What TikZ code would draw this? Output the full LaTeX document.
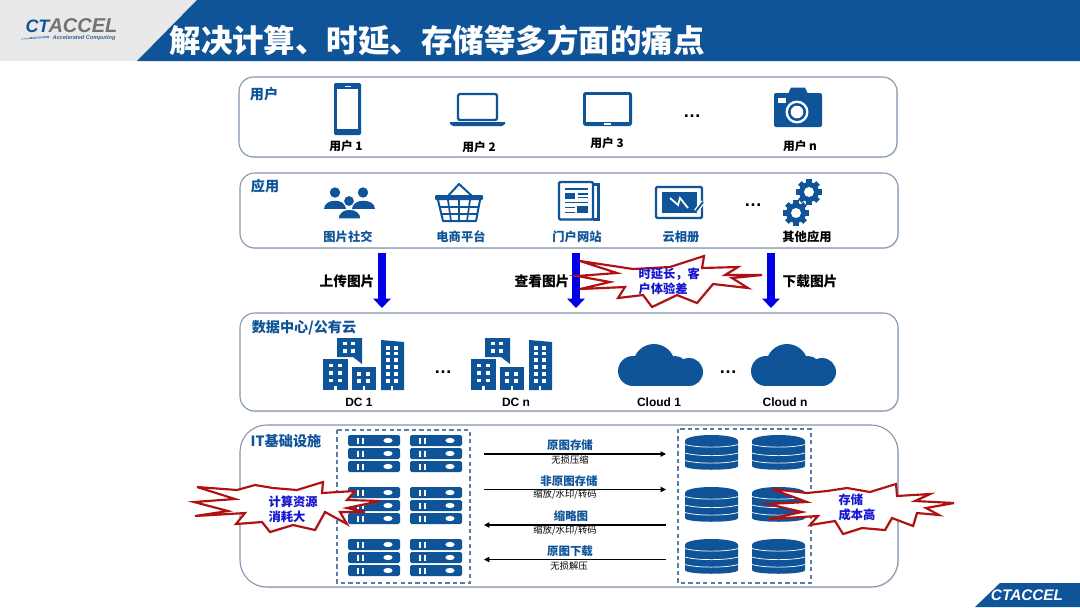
\documentclass[tikz,border=0pt]{standalone}
\usepackage{fontspec}
\setmainfont{Noto Sans CJK SC}
\newfontfamily\latfont{Liberation Sans}
\usetikzlibrary{arrows.meta,shadows}

\definecolor{ctblue}{RGB}{15,84,153}
\definecolor{ctgray}{RGB}{233,233,233}
\definecolor{panelline}{RGB}{128,148,174}
\definecolor{burstred}{RGB}{176,16,18}
\definecolor{bursttext}{RGB}{20,20,210}
\definecolor{bigblue}{RGB}{0,0,230}
\definecolor{boxline}{RGB}{90,125,165}

\tikzset{every picture/.style={line width=0.75pt}}
\tikzset{
  every pic/.style={yscale=-1},
  panel/.style={draw=panelline,fill=white,line width=0.8pt,drop shadow={opacity=0.18,shadow xshift=0.8pt,shadow yshift=-0.8pt}},
  burst/.style={draw=burstred,fill=white,line width=1.6pt,line join=miter,miter limit=8,drop shadow={opacity=0.22,shadow xshift=1pt,shadow yshift=-1pt}},
  dashbox/.style={draw=boxline,line width=0.9pt,dash pattern={on 3.2pt off 2.4pt}},
  bigarrow/.style={draw=bigblue,line width=6.6pt,-{Triangle[length=7pt,width=12.8pt]}},
  flowarrow/.style={draw=black,line width=0.85pt,-{Triangle[length=4pt,width=4pt]}},
  paneltitle/.style={inner sep=0pt,text=ctblue,font=\fontsize{10.6}{12}\selectfont\bfseries},
  usertext/.style={inner sep=0pt,text=black,font=\fontsize{8.8}{11}\selectfont\bfseries},
  apptext/.style={inner sep=0pt,text=ctblue,font=\fontsize{9.2}{11}\selectfont\bfseries},
  uptext/.style={inner sep=0pt,text=black,font=\fontsize{10.3}{12}\selectfont\bfseries},
  dctext/.style={inner sep=0pt,text=black,font=\fontsize{9}{11}\selectfont\latfont\bfseries},
  dottext/.style={inner sep=0pt,text=black,font=\fontsize{13.5}{14}\selectfont\latfont\bfseries},
  flowtext/.style={inner sep=0pt,text=ctblue,font=\fontsize{8.6}{10}\selectfont\bfseries},
  subtext/.style={inner sep=0pt,text=black,font=\fontsize{7}{9}\selectfont},
  bursttxt/.style={inner sep=0pt,text=bursttext,align=left,font=\fontsize{9.2}{11}\selectfont\bfseries},
  servericon/.pic={
    \foreach \y in {0,13,26}{
      \fill[ctblue,rounded corners=1.2pt] (0,\y) rectangle +(52,11);
      \fill[white] (9,\y+3) rectangle +(2.2,5.5);
      \fill[white] (13.5,\y+3) rectangle +(2.2,5.5);
      \fill[white] (40,\y+5.5) ellipse [x radius=4.6,y radius=2.6];
    }
  },
  diskicon/.pic={
    \fill[ctblue] (0,6) .. controls (0,-2) and (53,-2) .. (53,6) -- (53,31) .. controls (53,36) and (0,36) .. (0,31) -- cycle;
    \foreach \y in {9.5,18,25.5}{
      \draw[white,line width=0.55pt] (0,\y) .. controls (12,\y+3.5) and (41,\y+3.5) .. (53,\y);
    }
  },
  buildingicon/.pic={
    \fill[ctblue] (0,21) rectangle (25,52);
    \fill[ctblue] (14,0) -- (39,0) -- (39,26) -- (30,19) -- (14,19) -- cycle;
    \fill[ctblue] (29,29) rectangle (53,52);
    \fill[ctblue] (58,2) -- (81,4) -- (81,52) -- (58,52) -- cycle;
    \foreach \x in {8,17}{\foreach \y in {27.5,35,42.5}{\fill[white] (\x-1.7,\y-1.7) rectangle +(3.4,3.4);}}
    \foreach \x in {22,30}{\foreach \y in {5.7,13}{\fill[white] (\x-1.7,\y-1.7) rectangle +(3.4,3.4);}}
    \foreach \x in {36,45}{\foreach \y in {36,43}{\fill[white] (\x-1.7,\y-1.7) rectangle +(3.4,3.4);}}
    \foreach \x in {65,73}{\foreach \y in {10,15.5,22,29,36,43}{\fill[white] (\x-1.7,\y-1.7) rectangle +(3.4,3.4);}}
    \fill[white] (11.2,48) rectangle +(2.6,4);
    \fill[white] (39.8,48) rectangle +(2.6,4);
    \fill[white] (67.7,48) rectangle +(2.6,4);
  },
  cloudicon/.pic={
    \fill[ctblue] (15,27) circle [radius=15];
    \fill[ctblue] (36,21) circle [radius=21];
    \fill[ctblue] (57,25) circle [radius=13];
    \fill[ctblue] (71,28) circle [radius=14];
    \fill[ctblue] (15,28) rectangle (71,42);
  },
  gearicon/.pic={
    \foreach \a in {0,45,...,315}{
      \fill[ctblue,rotate=\a] (-2.6,-12.8) rectangle (2.6,0);
    }
    \fill[ctblue] (0,0) circle [radius=10];
    \fill[white] (0,0) circle [radius=5];
  }
}

\begin{document}
\begin{tikzpicture}[x=0.75pt,y=0.75pt,yscale=-1,xscale=1]
\useasboundingbox (0,0) rectangle (1080,607);

%Header band
\fill[ctgray] (0,0) rectangle (1080,61);
\fill[ctblue] (137,61) -- (197,0) -- (1080,0) -- (1080,61) -- cycle;
\fill[ctblue] (975,607) -- (1000,583) -- (1080,583) -- (1080,607) -- cycle;
% Text Node
\draw (437,40) node (titletext) [inner sep=0pt,text=white,font=\fontsize{23.6}{26}\selectfont\bfseries] {解决计算、时延、存储等多方面的痛点};
% Text Node
\draw (25,26) node (logoct) [anchor=west,inner sep=0pt,text=ctblue,font=\fontsize{13.5}{15}\selectfont\latfont\bfseries\itshape] {CT};
% Text Node
\draw (48,26) node (logoaccel) [anchor=west,inner sep=0pt,text=black!55,font=\fontsize{15}{17}\selectfont\latfont\bfseries\itshape] {ACCEL};
% Text Node
\draw (84,38) node (logosub) [inner sep=0pt,text=ctblue!70!black!80,font=\fontsize{4.2}{5}\selectfont\latfont\bfseries\itshape] {Accelerated Computing};
\draw[ctblue!70,line width=0.5pt] (21,39) -- (49,37.5);
\draw[ctblue!70,line width=0.5pt] (30,37.5) -- (49,36.5);
% Text Node
\draw (1027,595) node (logofoot) [inner sep=0pt,text=white,font=\fontsize{11.5}{13}\selectfont\latfont\bfseries\itshape] {CTACCEL};

%Shape: Rounded Rect panels
\path[panel,rounded corners=11pt] (239,77) rectangle (897,157);
\path[panel,rounded corners=11pt] (240,173) rectangle (898,248);
\path[panel,rounded corners=11pt] (240,313) rectangle (898,411);
\path[panel,rounded corners=20pt] (240,425) rectangle (898,587);

% Text Node
\draw (264,94) node (titleuser) [paneltitle] {用户};
% Text Node
\draw (265,186) node (titleapp) [paneltitle] {应用};
% Text Node
\draw (304,328) node (titledc) [paneltitle] {数据中心/公有云};
% Text Node
\draw (286,441) node (titleit) [paneltitle] {IT基础设施};

%Phone
\fill[ctblue,rounded corners=1pt] (334,83) rectangle (361,135);
\fill[white] (337,89) rectangle (358,129);
\fill[white] (345,85.5) rectangle (351,87);
%Laptop
\draw[ctblue,line width=1.7pt,rounded corners=1.5pt] (458,94) rectangle (497,120);
\fill[ctblue] (450,122) -- (505,122) -- (505,124) -- (502,126) -- (453,126) -- (450,124) -- cycle;
%Tablet
\fill[ctblue,rounded corners=2pt] (583,92) rectangle (632,126);
\fill[white] (586,95) rectangle (629,122);
\fill[white] (604,123) rectangle (611,125);
%Camera
\fill[ctblue,rounded corners=1.5pt] (774,93) rectangle (822,127);
\fill[ctblue] (788,94) -- (791,87.5) -- (805,87.5) -- (808,94) -- cycle;
\fill[white] (778,98) rectangle (786,103);
\fill[white] (797,112) circle [radius=11.5];
\fill[ctblue] (797,112) circle [radius=9];
\fill[white] (797,112) circle [radius=6.3];

% Text Node
\draw (346,146) node (usera) [usertext] {用户 1};
% Text Node
\draw (479,147) node (userb) [usertext] {用户 2};
% Text Node
\draw (607,143) node (userc) [usertext] {用户 3};
% Text Node
\draw (800,146) node (usern) [usertext] {用户 n};
% Text Node
\draw (692,116) node (dotsuser) [dottext] {…};

%People
\fill[ctblue] (335,192.5) circle [radius=5.2];
\fill[ctblue] (363,192.5) circle [radius=5.2];
\fill[ctblue] (324,209) .. controls (324,198) and (346,198) .. (346,209) -- cycle;
\fill[ctblue] (352,209) .. controls (352,198) and (375,198) .. (375,209) -- cycle;
\draw[fill=ctblue,draw=white,line width=0.8pt] (349,201) circle [radius=5.6];
\draw[fill=ctblue,draw=white,line width=0.8pt] (338,219) .. controls (338,206) and (361,206) .. (361,219) -- cycle;
%Basket
\draw[ctblue,line width=1.5pt,line join=round] (448,196) -- (459,184) -- (472,196);
\fill[ctblue,rounded corners=0.8pt] (435,195) rectangle (483,200);
\draw[ctblue,line width=1.5pt,line join=round] (438,200) -- (443,221) -- (476,221) -- (480,200);
\draw[ctblue,line width=1.3pt] (440,207) -- (478,207);
\draw[ctblue,line width=1.3pt] (441.5,214) -- (477,214);
\draw[ctblue,line width=1.3pt] (448,200) -- (451,221);
\draw[ctblue,line width=1.3pt] (459,200) -- (459,221);
\draw[ctblue,line width=1.3pt] (470,200) -- (467,221);
%Newspaper
\draw[ctblue,line width=1.7pt,rounded corners=1pt] (559,182) rectangle (593,219.5);
\draw[ctblue,line width=1.7pt] (593,184.5) -- (598.5,184.5) -- (598.5,219.5) -- (593,219.5);
\fill[ctblue] (565,187.5) rectangle (588,190);
\fill[ctblue] (565,193) rectangle (575,198.5);
\fill[ctblue] (577.5,193) rectangle (588,194.5);
\fill[ctblue] (577.5,196.5) rectangle (588,198);
\fill[ctblue] (565,201.5) rectangle (588,203);
\fill[ctblue] (577,206) rectangle (588,213);
\fill[ctblue] (565,206.5) rectangle (575,208);
\fill[ctblue] (565,211.5) rectangle (575,213);
%Cloud album
\draw[ctblue,line width=1.7pt,rounded corners=1pt] (656,187) rectangle (702,218);
\fill[ctblue] (662,192) rectangle (697,213);
\draw[white,line width=1.3pt] (670,198) -- (678,205) -- (680,198) -- (688,208);
\draw[white,line width=3.4pt] (696,211) -- (703,202);
\draw[ctblue,line width=1.4pt] (696,211) -- (703,202);
%Gears
\pic at (809,192) {gearicon};
\pic at (796,213) {gearicon};

% Text Node
\draw (348,237) node (appa) [apptext] {图片社交};
% Text Node
\draw (461,237) node (appb) [apptext] {电商平台};
% Text Node
\draw (577,237) node (appc) [apptext] {门户网站};
% Text Node
\draw (681,237) node (appd) [apptext] {云相册};
% Text Node
\draw (807,237) node (appn) [apptext,text=black] {其他应用};
% Text Node
\draw (753,205) node (dotsapp) [dottext] {…};

%Straight Lines
\coordinate (upa) at (382,253);
\coordinate (upb) at (382,308);
\coordinate (viewa) at (576,253);
\coordinate (viewb) at (576,308);
\coordinate (downa) at (771,253);
\coordinate (downb) at (771,308);
\draw[bigarrow] (upa) -- (upb);
\draw[bigarrow] (viewa) -- (viewb);
\draw[bigarrow] (downa) -- (downb);

% Text Node
\draw (347,281) node (uplabel) [uptext] {上传图片};
% Text Node
\draw (542,281) node (viewlabel) [uptext] {查看图片};
% Text Node
\draw (810,281) node (downlabel) [uptext] {下载图片};

%Buildings and clouds
\pic at (323,338) {buildingicon};
\pic at (471,338) {buildingicon};
\pic at (618,344) {cloudicon};
\pic at (751,344) {cloudicon};
% Text Node
\draw (359,402) node (dca) [dctext] {DC 1};
% Text Node
\draw (516,402) node (dcn) [dctext] {DC n};
% Text Node
\draw (659,402) node (clouda) [dctext] {Cloud 1};
% Text Node
\draw (785,402) node (cloudn) [dctext] {Cloud n};
% Text Node
\draw (443,372) node (dotsdc) [dottext] {…};
% Text Node
\draw (728,372) node (dotscloud) [dottext] {…};

%Shape: Rectangle
\draw[dashbox] (337,430) rectangle (470,583);
\draw[dashbox] (678,429) rectangle (811,583);

%Servers and disks
\foreach \x in {348,410}{
  \foreach \y in {435,487,539}{
    \pic at (\x,\y) {servericon};
  }
}
\foreach \x in {685,752}{
  \foreach \y in {435,487,539}{
    \pic at (\x,\y) {diskicon};
  }
}

%Straight Lines
\coordinate (storea) at (484,454);
\coordinate (storeb) at (666,454);
\coordinate (thumba) at (484,489.5);
\coordinate (thumbb) at (666,489.5);
\coordinate (smalla) at (666,525);
\coordinate (smallb) at (484,525);
\coordinate (loada) at (666,559.5);
\coordinate (loadb) at (484,559.5);
\draw[flowarrow] (storea) -- (storeb);
\draw[flowarrow] (thumba) -- (thumbb);
\draw[flowarrow] (smalla) -- (smallb);
\draw[flowarrow] (loada) -- (loadb);

% Text Node
\draw (570,445) node (flowa) [flowtext] {原图存储};
% Text Node
\draw (569,481) node (flowb) [flowtext] {非原图存储};
% Text Node
\draw (571,516) node (flowc) [flowtext] {缩略图};
% Text Node
\draw (570,551) node (flowd) [flowtext] {原图下载};
% Text Node
\draw (570,460) node (suba) [subtext] {无损压缩};
% Text Node
\draw (565,494) node (subb) [subtext] {缩放/水印/转码};
% Text Node
\draw (565,530) node (subc) [subtext] {缩放/水印/转码};
% Text Node
\draw (569,566) node (subd) [subtext] {无损解压};

%Shape: Burst
\path[burst] (580,261) -- (633,269) -- (670,267) -- (704,256) -- (702,268) -- (738,267) -- (725,275) -- (762,275) -- (732,278) -- (748,288) -- (713,284) -- (697,303) -- (677,295) -- (652,307) -- (643,295) -- (618,298) -- (625,287) -- (580,289) -- (610,282) -- (577,276) -- (617,273) -- cycle;
\path[burst] (197,487) -- (235,499) -- (194,502) -- (228,511) -- (195,516) -- (245,513) -- (236,524) -- (262,522) -- (270,532) -- (293,525) -- (315,530) -- (325,512) -- (347,524) -- (340,512) -- (365,512) -- (347,508) -- (380,501) -- (347,500) -- (355,491) -- (322,493) -- (323,482) -- (297,490) -- (273,488) -- (255,485) -- (237,490) -- cycle;
\path[burst] (772,489) -- (807,502) -- (768,504) -- (802,512) -- (769,519) -- (818,516) -- (810,525) -- (835,521) -- (843,534) -- (862,528) -- (885,530) -- (892,518) -- (913,526) -- (917,513) -- (939,515) -- (926,508) -- (954,503) -- (915,501) -- (930,494) -- (897,496) -- (896,484) -- (870,492) -- (847,488) -- (827,491) -- (807,493) -- cycle;

% Text Node
\draw (638,281) node (bursta) [bursttxt,anchor=west] {时延长，客\\户体验差};
% Text Node
\draw (268,509.5) node (burstb) [bursttxt,anchor=west] {计算资源\\消耗大};
% Text Node
\draw (838,507.5) node (burstc) [bursttxt,anchor=west] {存储\\成本高};

\end{tikzpicture}
\end{document}
